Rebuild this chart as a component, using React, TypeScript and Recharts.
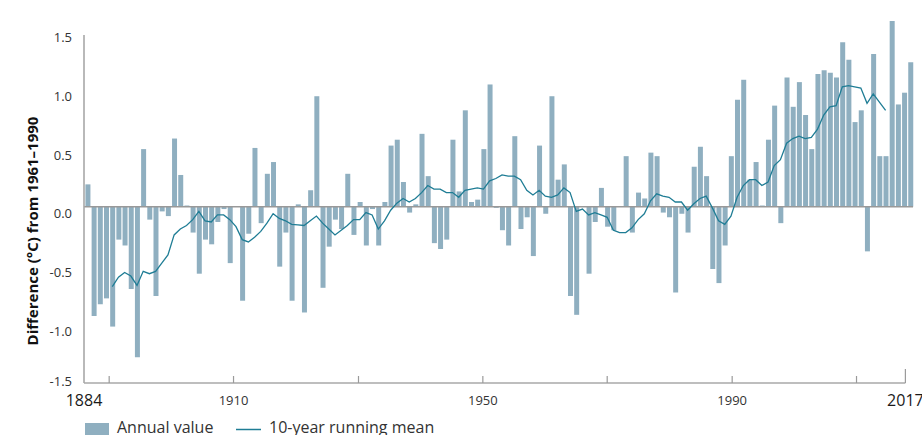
import React from "react";
import { Bar, ComposedChart, Line, ReferenceLine, XAxis, YAxis } from "recharts";

const FONT = "'Open Sans', 'Noto Sans', sans-serif";

// annual difference from the 1961-1990 mean, one value per year from 1884
const startYear = 1884;
const annualValues = [
  0.19, -0.93, -0.83, -0.78, -1.02, -0.28, -0.33, -0.7, -1.28, 0.49,
  -0.11, -0.76, -0.04, -0.08, 0.58, 0.27, 0.01, -0.22, -0.57, -0.28,
  -0.32, -0.13, -0.02, -0.48, 0, -0.8, -0.23, 0.5, -0.14, 0.28,
  0.38, -0.51, -0.22, -0.8, 0.02, -0.9, 0.14, 0.94, -0.69, -0.34,
  -0.11, -0.19, 0.28, -0.24, 0.04, -0.33, -0.02, -0.33, 0.04, 0.52,
  0.57, 0.21, -0.05, 0.02, 0.62, 0.26, -0.31, -0.36, -0.28, 0.57,
  0.13, 0.82, 0.04, 0.06, 0.49, 1.04, -0.01, -0.2, -0.33, 0.6,
  -0.19, -0.09, -0.42, 0.52, -0.06, 0.94, 0.23, 0.36, -0.76, -0.92,
  0, -0.57, -0.13, 0.16, -0.17, -0.2, 0, 0.43, -0.22, 0.12,
  0.07, 0.46, 0.43, -0.05, -0.09, -0.73, -0.06, -0.22, 0.34, 0.51,
  0.26, -0.53, -0.65, -0.33, 0.43, 0.91, 1.08, 0.23, 0.38, 0.01,
  0.57, 0.86, -0.14, 1.1, 0.85, 1.06, 0.78, 0.49, 1.13, 1.16,
  1.14, 1.1, 1.4, 1.25, 0.72, 0.82, -0.38, 1.3, 0.43, 0.43,
  1.58, 0.87, 0.97, 1.23,
];

// 10-year running mean, 1888-2013
const meanStartYear = 1888;
const runningMean = [
  -0.68, -0.6, -0.56, -0.59, -0.67, -0.55, -0.57, -0.55, -0.48, -0.41,
  -0.24, -0.19, -0.16, -0.11, -0.04, -0.12, -0.13, -0.07, -0.07, -0.11,
  -0.17, -0.28, -0.3, -0.26, -0.21, -0.14, -0.06, -0.1, -0.12, -0.15,
  -0.155, -0.16, -0.12, -0.08, -0.14, -0.19, -0.24, -0.2, -0.16, -0.11,
  -0.11, -0.05, -0.07, -0.19, -0.12, -0.03, 0.03, 0.07, 0.04, 0.07,
  0.12, 0.18, 0.15, 0.15, 0.12, 0.12, 0.08, 0.14, 0.15, 0.16,
  0.15, 0.22, 0.24, 0.27, 0.26, 0.26, 0.23, 0.14, 0.1, 0.14,
  0.09, 0.08, 0.1, 0.16, 0.12, -0.04, -0.02, -0.07, -0.05, -0.07,
  -0.09, -0.2, -0.22, -0.22, -0.18, -0.11, -0.06, 0.05, 0.11, 0.09,
  0.08, 0.04, 0.04, -0.03, 0.025, 0.07, 0.09, -0.01, -0.12, -0.15,
  -0.08, 0.08, 0.18, 0.23, 0.23, 0.18, 0.21, 0.35, 0.4, 0.54,
  0.58, 0.6, 0.58, 0.59, 0.66, 0.78, 0.85, 0.86, 1.02, 1.03,
  1.02, 1.01, 0.88, 0.96, 0.89, 0.82,
];

const yTicks = [-1.5, -1, -0.5, 0, 0.5, 1, 1.5];
const yTickLabels = ["-1.5", "-1.0", "-0.5", "0.0", "0.5", "1.0", "1.5"];

// tick marks sit where the original chart put them (slightly off the labelled years)
const xTicks = [1883.43, 1887.5, 1907.6, 1927.8, 1947.9, 1968, 1988.2, 2008.3, 2016.2];
const xTickLabels = ["1884", "", "1910", "", "1950", "", "1990", "", "2017"];

const data = annualValues.map((v, i) => {
  const year = startYear + i;
  const m = year - meanStartYear;
  return {
    year,
    annual: v,
    mean: m >= 0 && m < runningMean.length ? runningMean[m] : null,
  };
});

const XTick = (props: any) => {
  const { x, y, payload } = props;
  const i = xTicks.findIndex((t) => Math.abs(t - payload.value) < 0.01);
  const label = xTickLabels[i] ?? "";
  const edge = i === 0 || i === xTicks.length - 1;
  return (
    <g>
      {i > 0 && (
        <line x1={x} x2={x} y1={y} y2={y - (edge ? 14 : 7)} stroke="#9a9a9a" strokeWidth={1.2} />
      )}
      {label && (
        <text
          x={x}
          y={y + (edge ? 23.4 : 21.6)}
          textAnchor="middle"
          fontFamily={FONT}
          fontSize={edge ? 16 : 13}
          fill={edge ? "#1a1a1a" : "#333"}
        >
          {label}
        </text>
      )}
    </g>
  );
};

const YTick = (props: any) => {
  const { y, payload } = props;
  const i = yTicks.indexOf(payload.value);
  const off = payload.value === -1.5 ? -1.5 : 7;
  return (
    <text x={72} y={y + off} dy="0.36em" textAnchor="end" fontFamily={FONT} fontSize={13} fill="#333">
      {yTickLabels[i]}
    </text>
  );
};

export default function App() {
  return (
    <div style={{ position: "absolute", left: 0, top: 0, width: 922, height: 435, overflow: "hidden", background: "#fff" }}>
      <ComposedChart width={922} height={435} data={data} margin={{ top: 21, right: 9, bottom: 0, left: 0 }}>
        <XAxis
          dataKey="year"
          type="number"
          domain={[1883.43, 2017.43]}
          ticks={xTicks}
          interval={0}
          height={52}
          axisLine={false}
          tickLine={false}
          tickSize={0}
          tickMargin={0}
          tick={<XTick />}
        />
        <YAxis
          domain={[-1.5, 1.5]}
          ticks={yTicks}
          interval={0}
          width={84}
          axisLine={false}
          tickLine={false}
          tick={<YTick />}
          label={{
            content: () => (
              <text
                transform="translate(38,231) rotate(-90)"
                textAnchor="middle"
                fontFamily={FONT}
                fontSize={15}
                fontWeight={700}
                fill="#111"
              >
                Difference (°C) from 1961–1990
              </text>
            ),
          }}
        />
        <Bar dataKey="annual" fill="#8fafc0" barSize={5} isAnimationActive={false} />
        <ReferenceLine y={0} stroke="#999" strokeWidth={1.5} />
        <ReferenceLine
          segment={[
            { x: 1883.43, y: -1.5 },
            { x: 1883.43, y: 1.46 },
          ]}
          stroke="#a8a8a8"
          strokeWidth={1.6}
        />
        <ReferenceLine
          segment={[
            { x: 1883.43, y: -1.5 },
            { x: 2016.2, y: -1.5 },
          ]}
          stroke="#a8a8a8"
          strokeWidth={1.6}
        />
        <Line
          dataKey="mean"
          type="linear"
          stroke="#1f7d95"
          strokeWidth={1.3}
          dot={false}
          isAnimationActive={false}
        />
      </ComposedChart>
      <svg width={922} height={435} style={{ position: "absolute", left: 0, top: 0, pointerEvents: "none" }}>
        <rect x={85} y={423} width={24} height={14} fill="#8fafc0" />
        <text x={117} y={433} fontFamily={FONT} fontSize={16} fill="#333">
          Annual value
        </text>
        <line x1={236} x2={261} y1={429.5} y2={429.5} stroke="#1f7d95" strokeWidth={1.5} />
        <text x={269} y={433} fontFamily={FONT} fontSize={16} fill="#333">
          10-year running mean
        </text>
      </svg>
    </div>
  );
}
